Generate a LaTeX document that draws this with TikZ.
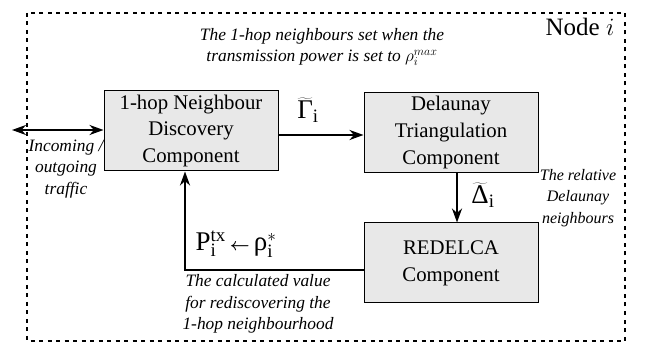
\documentclass[tikz,border=0pt]{standalone}
\usepackage{fontspec}
\setmainfont{LiberationSerif}[Extension=.ttf, UprightFont=*-Regular, ItalicFont=*-Italic, BoldFont=*-Bold, BoldItalicFont=*-BoldItalic]
\usetikzlibrary{arrows.meta}
\begin{document}
\begin{tikzpicture}[x=1pt, y=-1pt,
    comp/.style = {draw, line width=1pt, fill=black!9, minimum width=174pt, minimum height=80pt, align=center, inner sep=0pt, font=\fontsize{20.8}{27}\selectfont},
    note/.style = {align=center, inner sep=0pt, font=\fontsize{17.4}{21.5}\selectfont\itshape},
    sym/.style = {inner sep=0pt, font=\fontsize{27}{32}\selectfont},
    flow/.style = {line width=2.5pt, -{Stealth[length=14pt, width=10pt]}},
    dflow/.style = {line width=2.5pt, {Stealth[length=14pt, width=10pt]}-{Stealth[length=14pt, width=10pt]}}]

    \useasboundingbox (0,0) rectangle (648,347);
    \draw[line width=1.6pt, dash pattern=on 4pt off 4.5pt] (27,13) rectangle (625,341);

    \node [comp] (nd) at (191,131) {1-hop Neighbour\\Discovery\\Component};
    \node [comp] (dt) at (451,132.5) {Delaunay\\Triangulation\\Component};
    \node [comp] (rc) at (451,263) {REDELCA\\Component};
    \coordinate (out) at (12,130);

    \draw[dflow] (out) to (out -| nd.west);
    \draw[flow] ([yshift=-4pt]nd.east) to ([yshift=-2.5pt]dt.west);
    \draw[flow] ([xshift=6pt]dt.south) to ([xshift=6pt]rc.north);
    \draw[flow] ([yshift=-7pt]rc.west) -| ([xshift=-6pt]nd.south);

    \node [sym] (gam) at (308,110) {$\widetilde{\mbox{Γ}}_{\mathrm{i}}$};
    \node [sym] (del) at (483,195) {$\widetilde{\mbox{Δ}}_{\mathrm{i}}$};
    \node [sym] (pow) at (236,244) {$\mathrm{P}_{\mathrm{i}}^{\mathrm{tx}}\,\mbox{\fontsize{18}{18}\selectfont\boldmath$\leftarrow$}\,\mbox{ρ}_{\mathrm{i}}^{*}$};

    \node [note] (top) at (322,47) {The 1-hop neighbours set when the\\transmission power is set to $\rho_i^{max}$};
    \node [note] (trf) at (66,169) {Incoming /\\outgoing\\traffic};
    \node [note, font=\fontsize{16}{21.5}\selectfont\itshape] (rel) at (578,198) {The relative\\Delaunay\\neighbours};
    \node [note] (clc) at (258,304) {The calculated value\\for rediscovering the\\1-hop neighbourhood};
    \node [font=\fontsize{25}{30}\selectfont] (lbl) at (580,27) {Node $i$};

\end{tikzpicture}
\end{document}
